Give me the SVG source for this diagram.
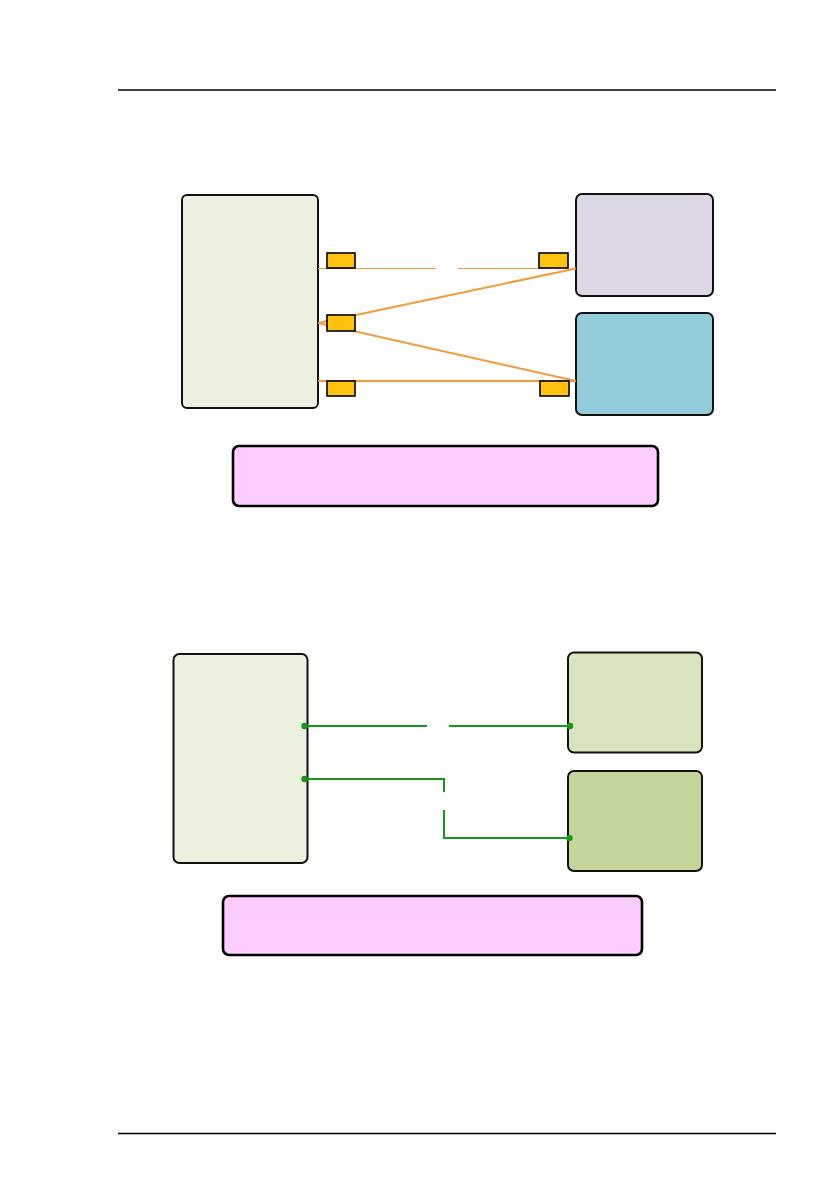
<svg xmlns="http://www.w3.org/2000/svg" width="838" height="1190" viewBox="0 0 838 1190">
<style>
.rule{stroke:#000;stroke-width:1.3}
.box{stroke:#111;stroke-width:2}
.note{fill:#FFCCFF;stroke:#000;stroke-width:2.6}
.port{fill:#FFC20E;stroke:#000;stroke-width:1.6}
.or{stroke:#F39A3C;fill:none}
.gr{stroke:#169916;stroke-width:2;fill:none}
.dot{fill:#169916}
</style>
<rect width="838" height="1190" fill="#fff"/>
<line class="rule" x1="118" y1="90" x2="776" y2="90"/>
<line class="rule" x1="118" y1="1133.5" x2="776" y2="1133.5"/>
<g id="host1"><rect class="box" x="182" y="195" width="136" height="213" rx="5" fill="#EBF0DF"/></g>
<g id="dev-purple"><rect class="box" x="576" y="194" width="137" height="102" rx="6" fill="#DCD6E6"/></g>
<g id="dev-blue"><rect class="box" x="576" y="313" width="137" height="102" rx="6" fill="#93CDDC"/></g>
<g id="note1"><rect class="note" x="233" y="446" width="425" height="60" rx="6"/></g>
<g id="host2"><rect class="box" x="173.5" y="654" width="134" height="209" rx="6" fill="#EBF0DF"/></g>
<g id="dev-green1"><rect class="box" x="568" y="652.5" width="134" height="100" rx="6" fill="#D7E4BE"/></g>
<g id="dev-green2"><rect class="box" x="568" y="771" width="134" height="100" rx="6" fill="#C4D69C"/></g>
<g id="note2"><rect class="note" x="223" y="896" width="419" height="59" rx="6"/></g>
<g id="connectors">
<line class="or" stroke-width="1.1" x1="318" y1="268.5" x2="436" y2="268.5"/>
<line class="or" stroke-width="1.1" x1="458" y1="268.5" x2="540" y2="268.5"/>
<line class="or" stroke-width="2" x1="318" y1="323" x2="576" y2="268.5"/>
<line class="or" stroke-width="2" x1="318" y1="323" x2="576" y2="381"/>
<line class="or" stroke-width="2" x1="318" y1="381" x2="576" y2="381"/>
<line class="gr" x1="304" y1="726" x2="427" y2="726"/>
<line class="gr" x1="449" y1="726" x2="570" y2="726"/>
<polyline class="gr" points="304,779 444,779 444,792"/>
<polyline class="gr" points="444,810 444,838 570,838"/>
<circle class="dot" cx="304.5" cy="726" r="3.2"/>
<circle class="dot" cx="304.5" cy="779" r="3.2"/>
<circle class="dot" cx="570" cy="726" r="3.2"/>
<circle class="dot" cx="569.5" cy="838" r="3.2"/>
</g>
<g id="port-l1"><rect class="port" x="327" y="253" width="28" height="15"/></g>
<g id="port-l2"><rect class="port" x="327" y="315" width="28" height="16"/></g>
<g id="port-l3"><rect class="port" x="327" y="381" width="28" height="15"/></g>
<g id="port-r1"><rect class="port" x="539" y="253" width="29" height="15"/></g>
<g id="port-r2"><rect class="port" x="540" y="381" width="29" height="15"/></g>
</svg>
